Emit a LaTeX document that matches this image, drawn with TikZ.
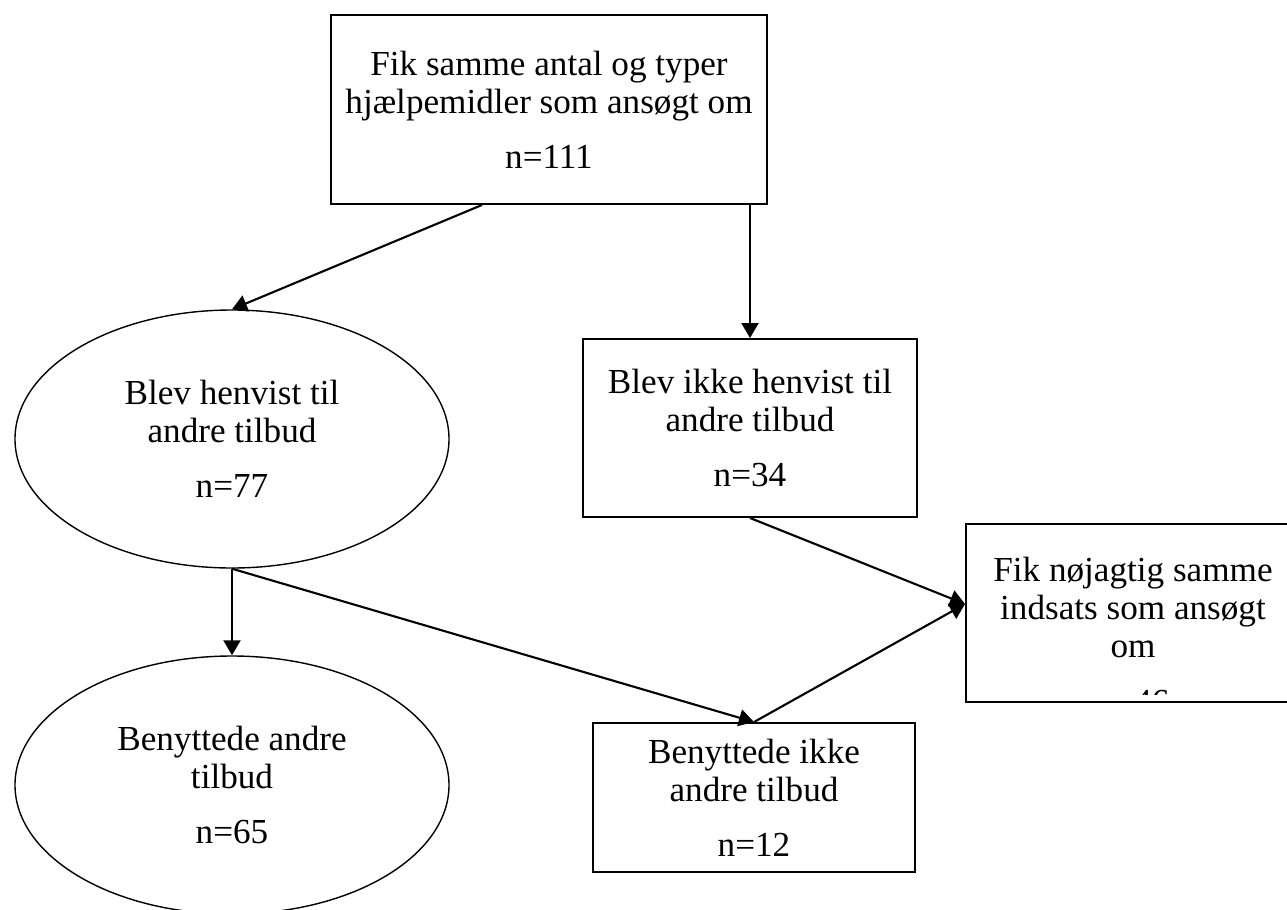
\documentclass[tikz,border=0pt]{standalone}
\usepackage{fontspec}
\setmainfont{Liberation Serif}
\usetikzlibrary{arrows.meta,shapes.geometric}

\begin{document}
\begin{tikzpicture}[
    x=0.2mm,y=-0.2mm,
    txt/.style={align=center,font=\fontsize{20}{21.6}\selectfont},
    box/.style={draw,line width=1.1pt,rectangle,inner sep=0pt,txt},
    oval/.style={draw,line width=0.8pt,ellipse,inner sep=0pt,
      minimum width=86.8mm,minimum height=51.6mm,txt},
    arr/.style={-{Triangle[length=3mm,width=3.4mm]},line width=1.2pt}
  ]
    \useasboundingbox (0,0) rectangle (1287,910);
    \node[box,minimum width=87.2mm,minimum height=37.8mm] (granted) at (549,109.5)
      {Fik samme antal og typer\\hjælpemidler som ansøgt om\\[3.4mm]n=111};
    \node[oval] (referred) at (232,439) {Blev henvist til\\andre tilbud\\[3.4mm]n=77};
    \node[box,minimum width=66.8mm,minimum height=35.6mm] (notreferred) at (750,428)
      {Blev ikke henvist til\\andre tilbud\\[3.4mm]n=34};
    \node[oval] (used) at (232,785) {Benyttede andre\\tilbud\\[3.4mm]n=65};
    \node[box,minimum width=64.4mm,minimum height=29.8mm] (notused) at (754,797.5)
      {Benyttede ikke\\andre tilbud\\[3.4mm]n=12};
    % text runs past the bottom of this box
    \node[box,minimum width=66.8mm,minimum height=35.6mm] (exact) at (1133,613) {};
    \begin{scope}
      \clip (exact.north west) rectangle ([yshift=1.6mm]exact.south east);
      \node[txt,inner sep=0pt,anchor=north] (exacttext) at ([yshift=-6.8mm]exact.north)
        {Fik nøjagtig samme\\indsats som ansøgt\\om\\[3.6mm]n=46};
    \end{scope}
    \draw[arr] ([xshift=-13.4mm]granted.south) -- (referred.north);
    \draw[arr] (granted.south -| notreferred.north) -- (notreferred.north);
    \draw[arr] (notreferred.south) -- ([yshift=1.8mm]exact.west);
    \draw[arr] (referred.south) -- (used.north);
    \draw[arr] (referred.south) -- (notused.north);
    \draw[arr] (notused.north) -- ([yshift=1.8mm]exact.west);
\end{tikzpicture}
\end{document}
